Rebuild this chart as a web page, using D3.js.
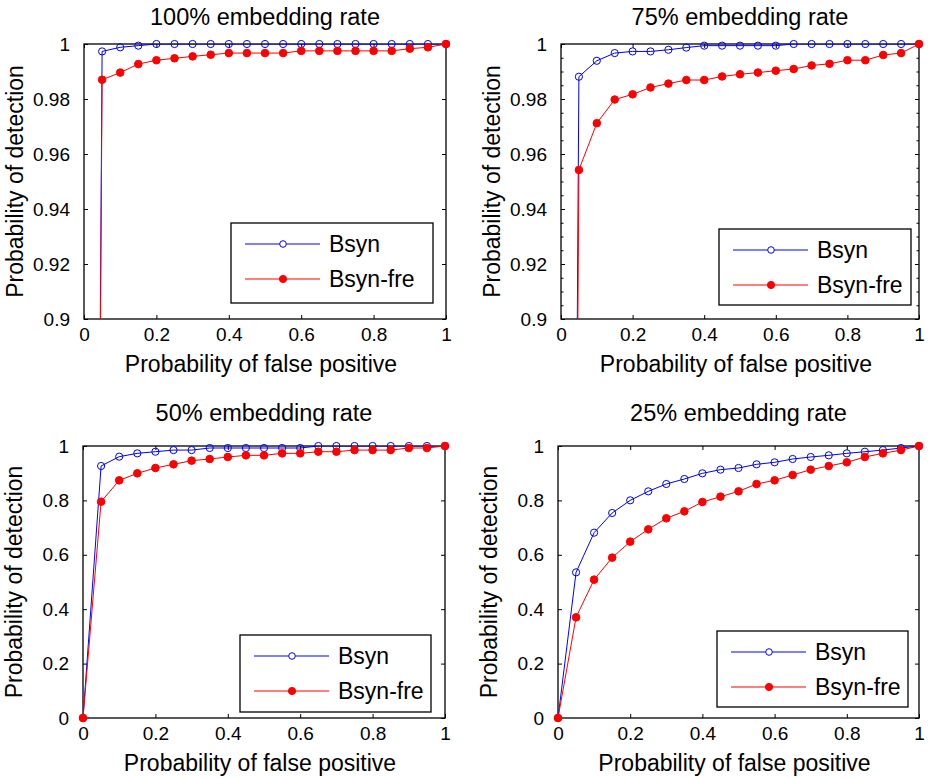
<!DOCTYPE html>
<html>
<head>
<meta charset="utf-8">
<script src="https://cdn.jsdelivr.net/npm/d3@7"></script>
<style>
  body { margin: 0; background: #fff; }
  svg { font-family: "Liberation Sans", Arial, Helvetica, sans-serif; }
</style>
</head>
<body>
<div id="chart"></div>
<script>
// false positive rates shared by every panel
const falsePositive = [0, 0.05, 0.1, 0.15, 0.2, 0.25, 0.3, 0.35, 0.4, 0.45, 0.5,
                       0.55, 0.6, 0.65, 0.7, 0.75, 0.8, 0.85, 0.9, 0.95, 1];

const titles = ['100% embedding rate', '75% embedding rate', '50% embedding rate', '25% embedding rate'];
const seriesNames = ['Bsyn', 'Bsyn-fre'];

const xTicks = [0, 0.2, 0.4, 0.6, 0.8, 1];
const yTicksHigh = [0.9, 0.92, 0.94, 0.96, 0.98, 1];
const yTicksFull = [0, 0.2, 0.4, 0.6, 0.8, 1];

// detection probabilities
const bsyn100 = [0, 0.9973, 0.9988, 0.9994, 1, 1, 1, 1, 1, 1, 1,
                 1, 1, 1, 1, 1, 1, 1, 1, 1, 1];
const bsynFre100 = [0, 0.9870, 0.9896, 0.9927, 0.9941, 0.9948, 0.9955, 0.9961, 0.9967, 0.9967, 0.9967,
                    0.9967, 0.9975, 0.9975, 0.9975, 0.9975, 0.9975, 0.9975, 0.9983, 0.9988, 1];

const bsyn75 = [0, 0.9881, 0.9939, 0.9967, 0.9973, 0.9973, 0.9979, 0.9987, 0.9994, 0.9994, 0.9994,
                0.9994, 0.9994, 1, 1, 1, 1, 1, 1, 1, 1];
const bsynFre75 = [0, 0.9542, 0.9712, 0.9798, 0.9817, 0.9842, 0.9856, 0.9869, 0.9869, 0.9882, 0.9890,
                   0.9896, 0.9903, 0.9909, 0.9922, 0.9928, 0.9941, 0.9941, 0.9960, 0.9967, 1];

const bsyn50 = [0, 0.9265, 0.9608, 0.9730, 0.9790, 0.9850, 0.9850, 0.9926, 0.9926, 0.9926, 0.9926,
                0.9926, 0.9926, 1, 1, 1, 1, 1, 1, 1, 1];
const bsynFre50 = [0, 0.7953, 0.8738, 0.8995, 0.9191, 0.9326, 0.9461, 0.9522, 0.9596, 0.9657, 0.9657,
                   0.9730, 0.9730, 0.9790, 0.9790, 0.9850, 0.9850, 0.9850, 0.9926, 0.9926, 1];

const bsyn25 = [0, 0.5355, 0.6814, 0.7537, 0.8002, 0.8333, 0.8603, 0.8787, 0.8995, 0.9130, 0.9191,
                0.9326, 0.9400, 0.9522, 0.9596, 0.9657, 0.9730, 0.9790, 0.9850, 0.9926, 1];
const bsynFre25 = [0, 0.3701, 0.5086, 0.5895, 0.6483, 0.6936, 0.7341, 0.7598, 0.7941, 0.8137, 0.8333,
                   0.8603, 0.8738, 0.8934, 0.9130, 0.9265, 0.9400, 0.9596, 0.9730, 0.9850, 1];

const width = 928;
const height = 778;

// layout of the four axes boxes and their legends
const panels = [
    {title: titles[0], left: 84, right: 446, top: 44, bottom: 319, titleGap: 19, yDomain: [0.9, 1], yTicks: yTicksHigh,
     minor: false, series: [bsyn100, bsynFre100], legend: {x: 231, y: 223, w: 202, h: 80}},
    {title: titles[1], left: 561, right: 919, top: 44, bottom: 319, titleGap: 19, yDomain: [0.9, 1], yTicks: yTicksHigh,
     minor: true, series: [bsyn75, bsynFre75], legend: {x: 719, y: 229, w: 192, h: 76}},
    {title: titles[2], left: 83, right: 445, top: 446, bottom: 718, titleGap: 25, yDomain: [0, 1], yTicks: yTicksFull,
     minor: false, series: [bsyn50, bsynFre50], legend: {x: 240, y: 635, w: 191, h: 77}},
    {title: titles[3], left: 558, right: 919, top: 446, bottom: 718, titleGap: 25, yDomain: [0, 1], yTicks: yTicksFull,
     minor: false, series: [bsyn25, bsynFre25], legend: {x: 717, y: 631, w: 191, h: 76}}
];

const colors = ['#0000ff', '#ff0000'];
const fmt = d => d3.format('')(+d.toFixed(3));

const svg = d3.select('#chart').append('svg')
    .attr('width', width)
    .attr('height', height);

panels.forEach((p, pi) => {
    const x = d3.scaleLinear().domain([0, 1]).range([p.left, p.right]);
    const y = d3.scaleLinear().domain(p.yDomain).range([p.bottom, p.top]);
    const g = svg.append('g');

    // clip for the lines
    const clipId = 'clip' + pi;
    svg.append('clipPath').attr('id', clipId)
      .append('rect')
        .attr('x', p.left).attr('y', p.top)
        .attr('width', p.right - p.left).attr('height', p.bottom - p.top);

    // axes with inward ticks on all four sides
    g.append('g')
        .attr('transform', `translate(0, ${p.bottom})`)
        .call(d3.axisBottom(x).tickValues(xTicks).tickSizeInner(-4).tickSizeOuter(0).tickPadding(9).tickFormat(fmt));
    g.append('g')
        .attr('transform', `translate(0, ${p.top})`)
        .call(d3.axisTop(x).tickValues(xTicks).tickSizeInner(-4).tickSizeOuter(0).tickFormat(''));
    g.append('g')
        .attr('transform', `translate(${p.left}, 0)`)
        .call(d3.axisLeft(y).tickValues(p.yTicks).tickSizeInner(-4).tickSizeOuter(0).tickPadding(14).tickFormat(fmt));
    g.append('g')
        .attr('transform', `translate(${p.right}, 0)`)
        .call(d3.axisRight(y).tickValues(p.yTicks).tickSizeInner(-4).tickSizeOuter(0).tickFormat(''));

    if (p.minor) {
        const minorTicks = d3.range(0.905, 1, 0.005).filter(v => Math.round(v * 1000) % 20 !== 0);
        g.append('g')
            .attr('transform', `translate(${p.left}, 0)`)
            .call(d3.axisLeft(y).tickValues(minorTicks).tickSizeInner(-2.5).tickSizeOuter(0).tickFormat(''));
        g.append('g')
            .attr('transform', `translate(${p.right}, 0)`)
            .call(d3.axisRight(y).tickValues(minorTicks).tickSizeInner(-2.5).tickSizeOuter(0).tickFormat(''));
    }

    g.selectAll('.domain').remove();
    g.selectAll('.tick line').attr('stroke', '#000').attr('stroke-width', 1);
    g.selectAll('.tick text').attr('font-size', 19).attr('fill', '#000')
        .attr('font-family', '"Liberation Sans", Arial, Helvetica, sans-serif');

    // box
    g.append('rect')
        .attr('x', p.left).attr('y', p.top)
        .attr('width', p.right - p.left).attr('height', p.bottom - p.top)
        .attr('fill', 'none').attr('stroke', '#000').attr('stroke-width', 1.3);

    // series
    p.series.forEach((values, si) => {
        const pts = falsePositive.map((fp, i) => [fp, values[i]]);
        const line = d3.line().x(d => x(d[0])).y(d => y(d[1]));
        g.append('path')
            .datum(pts)
            .attr('clip-path', `url(#${clipId})`)
            .attr('fill', 'none')
            .attr('stroke', colors[si])
            .attr('stroke-width', 1)
            .attr('d', line);
        g.append('g')
            .selectAll('circle')
            .data(pts.filter(d => d[1] >= p.yDomain[0]))
            .join('circle')
              .attr('cx', d => x(d[0]))
              .attr('cy', d => y(d[1]))
              .attr('r', si === 0 ? 3.6 : 3.8)
              .attr('fill', si === 0 ? 'none' : colors[si])
              .attr('stroke', colors[si])
              .attr('stroke-width', 1);
    });

    // title and axis labels
    g.append('text')
        .attr('x', (p.left + p.right) / 2)
        .attr('y', p.top - p.titleGap)
        .attr('text-anchor', 'middle')
        .attr('font-size', 23.5)
        .text(p.title);
    g.append('text')
        .attr('x', (p.left + p.right) / 2 - 4)
        .attr('y', p.bottom + 53)
        .attr('text-anchor', 'middle')
        .attr('font-size', 23)
        .text('Probability of false positive');
    g.append('text')
        .attr('transform', `translate(${p.left - 61}, ${(p.top + p.bottom) / 2}) rotate(-90)`)
        .attr('text-anchor', 'middle')
        .attr('font-size', 23)
        .text('Probability of detection');

    // legend
    const L = p.legend;
    const lg = g.append('g').attr('transform', `translate(${L.x}, ${L.y})`);
    lg.append('rect')
        .attr('width', L.w).attr('height', L.h)
        .attr('fill', '#fff').attr('stroke', '#000').attr('stroke-width', 1.3);
    seriesNames.forEach((name, si) => {
        const ry = 21 + si * 35;
        lg.append('line')
            .attr('x1', 14).attr('x2', 89).attr('y1', ry).attr('y2', ry)
            .attr('stroke', colors[si]).attr('stroke-width', 1);
        lg.append('circle')
            .attr('cx', 52).attr('cy', ry)
            .attr('r', si === 0 ? 3.3 : 3.6)
            .attr('fill', si === 0 ? '#fff' : colors[si])
            .attr('stroke', colors[si]);
        lg.append('text')
            .attr('x', 98).attr('y', ry)
            .attr('dy', '0.36em')
            .attr('font-size', 23)
            .text(name);
    });
});
</script>
</body>
</html>
